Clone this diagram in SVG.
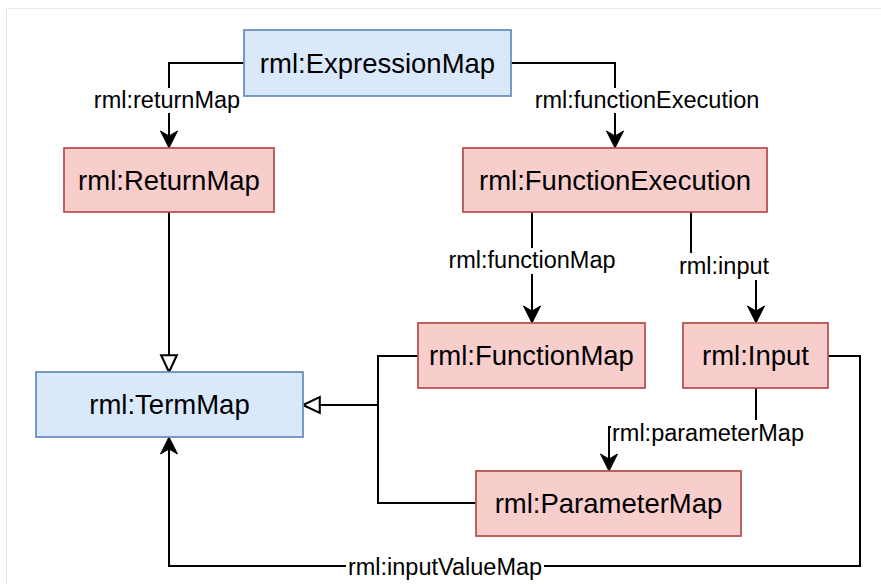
<svg xmlns="http://www.w3.org/2000/svg" width="881" height="584" viewBox="0 0 881 584">
<style>
.blue{fill:#dae8fc;stroke:#6c8ebf;stroke-width:1.8}
.red{fill:#f8cecc;stroke:#b85450;stroke-width:1.8}
.nl{font-family:"Liberation Sans",Arial,Helvetica,sans-serif;font-size:27.5px;fill:#000;text-anchor:middle;dominant-baseline:central}
.el{font-family:"Liberation Sans",Arial,Helvetica,sans-serif;font-size:23.5px;fill:#000;text-anchor:middle;dominant-baseline:central}
.edge{fill:none;stroke:#000;stroke-width:2}
.lbg{fill:#fff}
</style>
<defs>
<marker id="arr" markerUnits="userSpaceOnUse" markerWidth="20" markerHeight="20" viewBox="-18 -10 20 20" refX="0" refY="0" orient="auto">
<path d="M0,0 L-17,-8.5 L-12,0 L-17,8.5 Z" fill="#000" stroke="#000" stroke-width="1"/>
</marker>
<marker id="tri" markerUnits="userSpaceOnUse" markerWidth="22" markerHeight="22" viewBox="-19 -10 21 20" refX="0" refY="0" orient="auto">
<path d="M0,0 L-16,-7.5 L-16,7.5 Z" fill="#fff" stroke="#000" stroke-width="2"/>
</marker>
</defs>
<rect x="0" y="0" width="881" height="584" fill="#fff"/>
<rect x="6.5" y="8.5" width="900" height="600" fill="#fff" stroke="#e8e8e8" stroke-width="1"/>
<g id="connectors">
<path class="edge" d="M244,63 H169 V148" marker-end="url(#arr)"/>
<path class="edge" d="M511,63 H615 V148" marker-end="url(#arr)"/>
<path class="edge" d="M169,212 V372" marker-end="url(#tri)"/>
<path class="edge" d="M532,212 V323" marker-end="url(#arr)"/>
<path class="edge" d="M691,212 V266 H756 V323" marker-end="url(#arr)"/>
<path class="edge" d="M418,356 H378 V503 H476"/>
<path class="edge" d="M378,405 H303" marker-end="url(#tri)"/>
<path class="edge" d="M756,388 V427 H609 V471" marker-end="url(#arr)"/>
<path class="edge" d="M828,356 H860 V566 H169 V437" marker-end="url(#arr)"/>
<rect class="lbg" x="88" y="88" width="160" height="25"/>
<text class="el" x="167" y="100">rml:returnMap</text>
<rect class="lbg" x="530" y="88" width="234" height="25"/>
<text class="el" x="647" y="100">rml:functionExecution</text>
<rect class="lbg" x="446" y="248" width="172" height="26"/>
<text class="el" x="532" y="260">rml:functionMap</text>
<rect class="lbg" x="676" y="253" width="96" height="27"/>
<text class="el" x="724" y="266">rml:input</text>
<rect class="lbg" x="611" y="420" width="196" height="26"/>
<text class="el" x="708" y="433">rml:parameterMap</text>
<rect class="lbg" x="346" y="554" width="198" height="26"/>
<text class="el" x="445" y="567">rml:inputValueMap</text>
</g>
<g id="expressionMap">
<rect class="blue" x="244" y="30" width="267" height="66"/>
<text class="nl" x="377.5" y="63">rml:ExpressionMap</text>
</g>
<g id="returnMap">
<rect class="red" x="64" y="148" width="210" height="64"/>
<text class="nl" x="169" y="180">rml:ReturnMap</text>
</g>
<g id="functionExecution">
<rect class="red" x="463" y="148" width="304" height="64"/>
<text class="nl" x="615" y="180">rml:FunctionExecution</text>
</g>
<g id="functionMap">
<rect class="red" x="418" y="323" width="227" height="65"/>
<text class="nl" x="531.5" y="355.5">rml:FunctionMap</text>
</g>
<g id="input">
<rect class="red" x="683" y="323" width="145" height="65"/>
<text class="nl" x="755.5" y="355.5">rml:Input</text>
</g>
<g id="termMap">
<rect class="blue" x="36" y="372" width="267" height="65"/>
<text class="nl" x="169.5" y="404.5">rml:TermMap</text>
</g>
<g id="parameterMap">
<rect class="red" x="476" y="471" width="265" height="65"/>
<text class="nl" x="608.5" y="503.5">rml:ParameterMap</text>
</g>
</svg>
